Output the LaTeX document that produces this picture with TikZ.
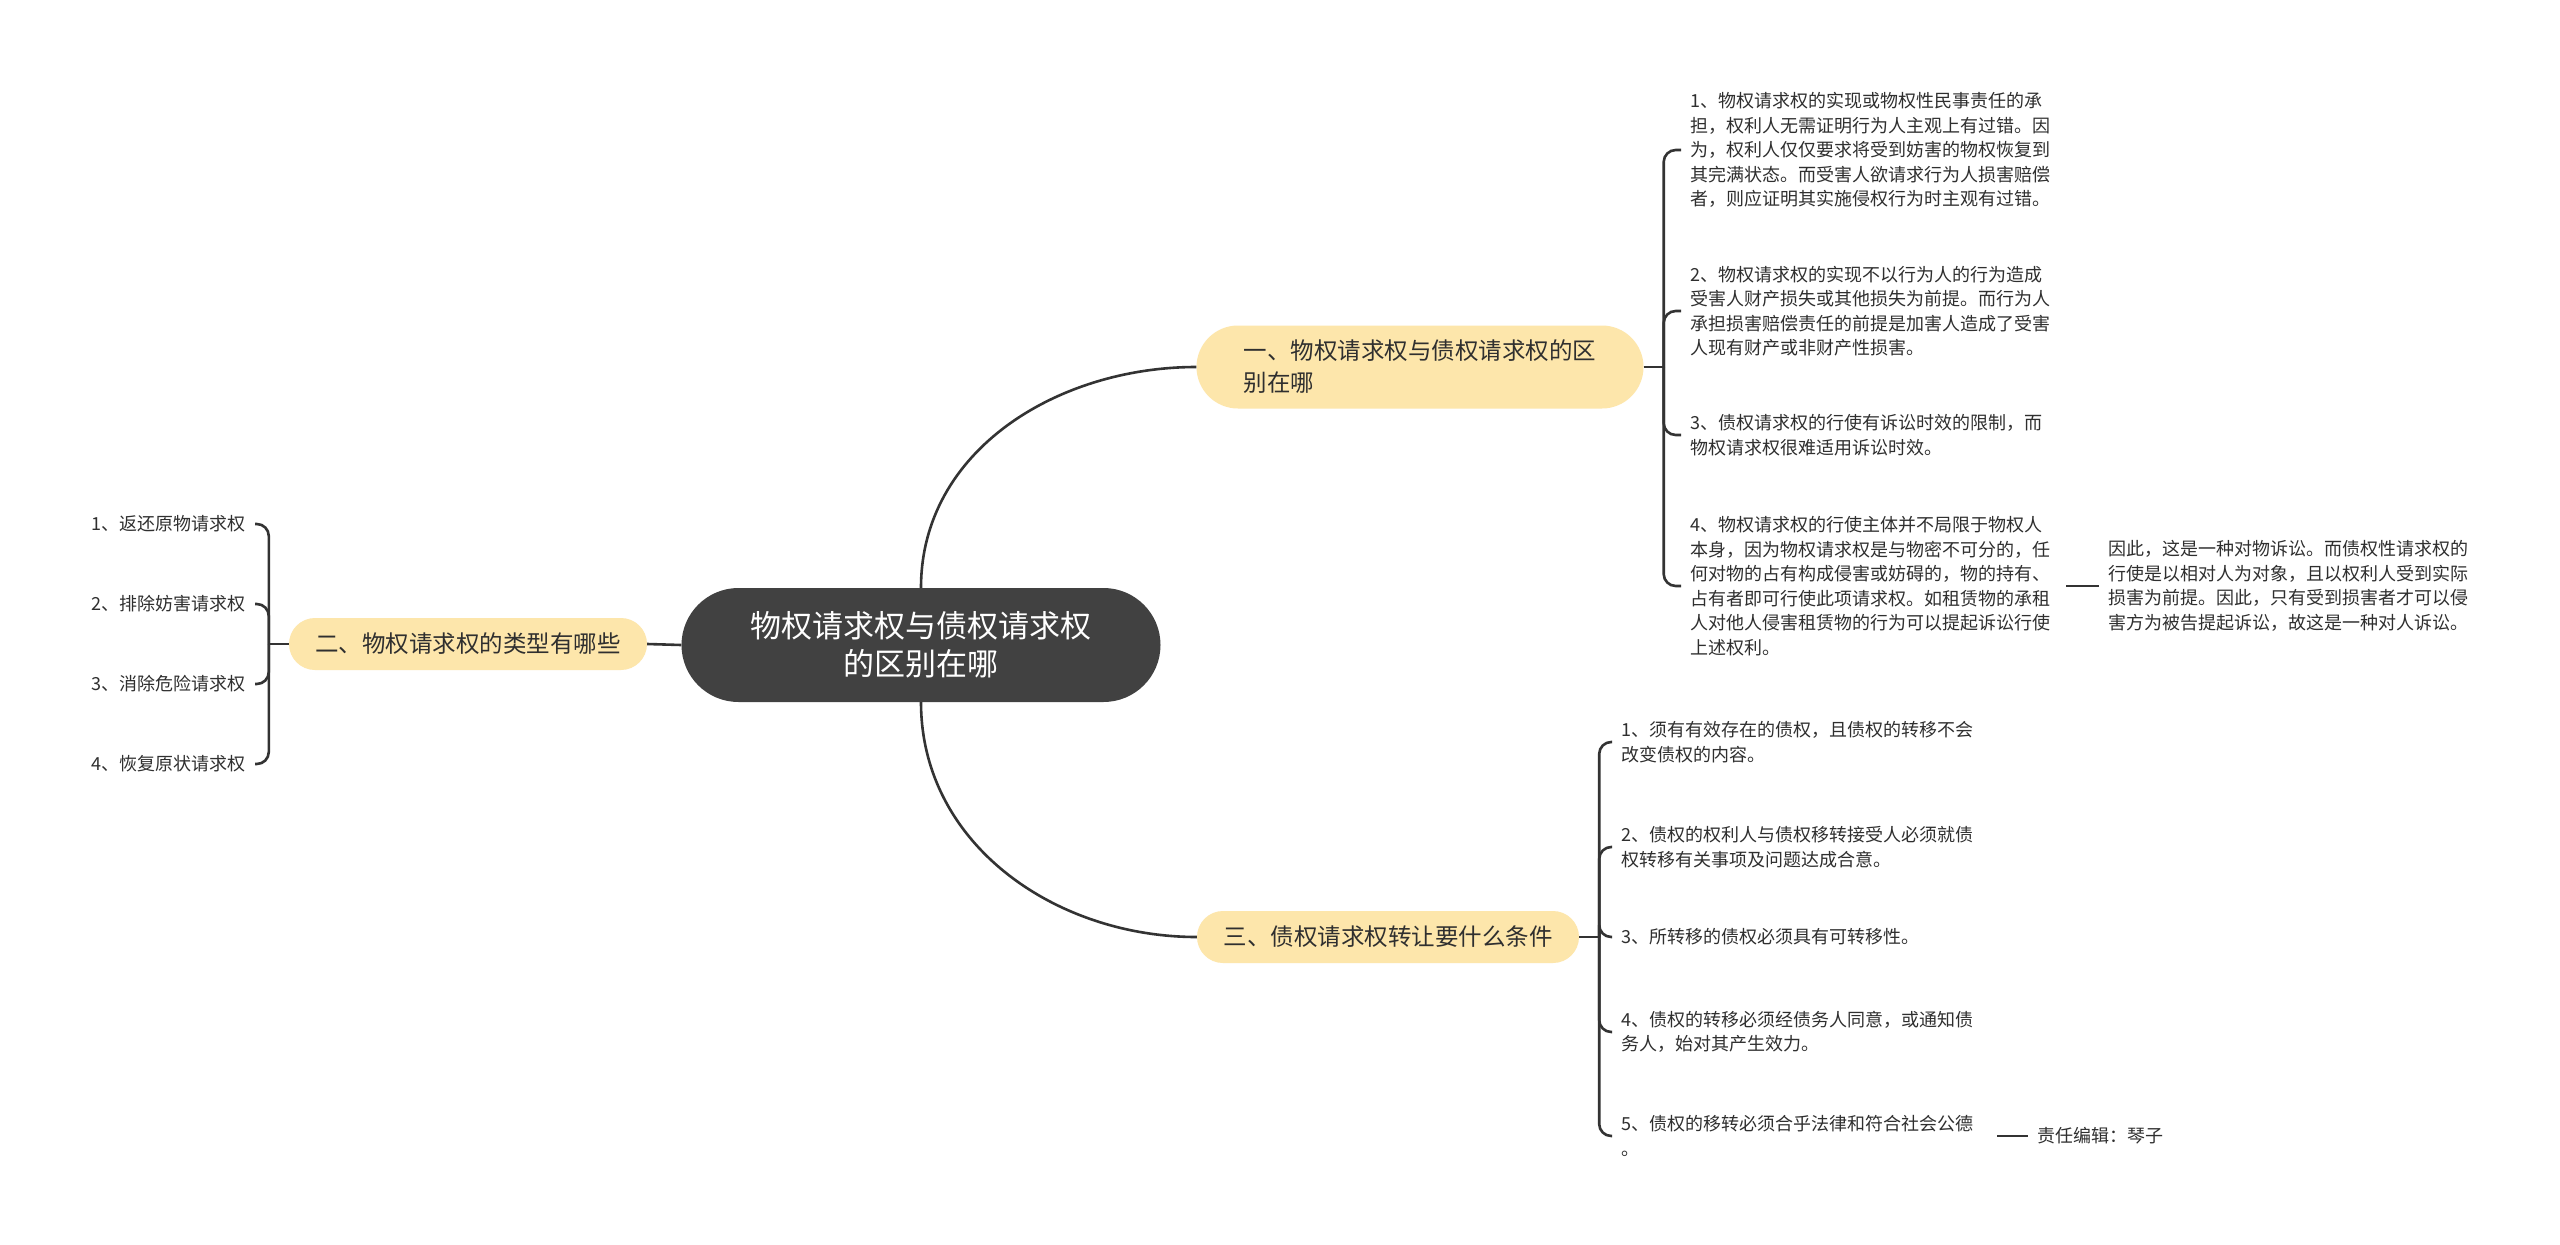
\documentclass[tikz,border=0pt]{standalone}
\usepackage{fontspec}
\setmainfont{Noto Sans CJK SC}
\usepackage{xcolor}
\definecolor{rootGray}{HTML}{414141}
\definecolor{topicYellow}{HTML}{FDE6AB}
\definecolor{linkGray}{HTML}{333333}
\definecolor{textGray}{HTML}{2F2F2F}
\usetikzlibrary{positioning}

\tikzset{
  rootnode/.style={fill=rootGray, text=white, rounded corners=57pt, minimum width=479pt, minimum height=114pt, align=center, font=\fontsize{31}{38}\selectfont},
  topicnode/.style={fill=topicYellow, text=textGray, minimum height=52pt, rounded corners=26pt, align=left, font=\fontsize{23.5}{32}\selectfont},
  leafnode/.style={text=textGray, inner xsep=9pt, inner ysep=2pt, align=left, font=\fontsize{18}{24.5}\selectfont},
  longleaf/.style={leafnode, text width=367pt, anchor=west},
  link/.style={draw=linkGray, line width=2.6pt},
  branch/.style={link, rounded corners=12pt},
}

\begin{document}
\begin{tikzpicture}[x=1pt, y=-1pt]
  \fill[white] (0,0) rectangle (2560,1245);
  \useasboundingbox (0,0) rectangle (2560,1245);

  % centre and main topics
  \node[rootnode] (root) at (921,645) {物权请求权与债权请求权\\的区别在哪};
  \node[topicnode, rounded corners=41.5pt, minimum width=447pt, minimum height=83pt] (diff) at (1420,367) {一、物权请求权与债权请求权的区\\别在哪};
  \node[topicnode, minimum width=358pt] (kinds) at (468,644) {二、物权请求权的类型有哪些};
  \node[topicnode, minimum width=382pt] (terms) at (1388,937) {三、债权请求权转让要什么条件};

  \draw[link] (root.west) -- (kinds.east);
  \draw[link] (root.north) to[out=90, in=180] (diff.west);
  \draw[link] (root.south) to[out=-90, in=180] (terms.west);

  % differences
  \node[longleaf] (diffA) at (1681,150) {1、物权请求权的实现或物权性民事责任的承\\担，权利人无需证明行为人主观上有过错。因\\为，权利人仅仅要求将受到妨害的物权恢复到\\其完满状态。而受害人欲请求行为人损害赔偿\\者，则应证明其实施侵权行为时主观有过错。};
  \node[longleaf] (diffB) at (1681,311) {2、物权请求权的实现不以行为人的行为造成\\受害人财产损失或其他损失为前提。而行为人\\承担损害赔偿责任的前提是加害人造成了受害\\人现有财产或非财产性损害。};
  \node[longleaf] (diffC) at (1681,435) {3、债权请求权的行使有诉讼时效的限制，而\\物权请求权很难适用诉讼时效。};
  \node[longleaf] (diffD) at (1681,586) {4、物权请求权的行使主体并不局限于物权人\\本身，因为物权请求权是与物密不可分的，任\\何对物的占有构成侵害或妨碍的，物的持有、\\占有者即可行使此项请求权。如租赁物的承租\\人对他人侵害租赁物的行为可以提起诉讼行使\\上述权利。};
  \node[longleaf, right=33pt of diffD] (diffDnote) {因此，这是一种对物诉讼。而债权性请求权的\\行使是以相对人为对象，且以权利人受到实际\\损害为前提。因此，只有受到损害者才可以侵\\害方为被告提起诉讼，故这是一种对人诉讼。};

  \coordinate (diffJ) at ([xshift=20pt]diff.east);
  \draw[link] (diff.east) -- (diffJ);
  \foreach \leaf in {diffA,diffB,diffC,diffD}
    \draw[branch] (diffJ) |- (\leaf.west);
  \draw[link] (diffD.east) -- (diffDnote.west);

  % kinds
  \node[leafnode, anchor=east] (kindA) at (255,524) {1、返还原物请求权};
  \node[leafnode, anchor=east] (kindB) at (255,604) {2、排除妨害请求权};
  \node[leafnode, anchor=east] (kindC) at (255,684) {3、消除危险请求权};
  \node[leafnode, anchor=east] (kindD) at (255,764) {4、恢复原状请求权};

  \coordinate (kindsJ) at ([xshift=-20pt]kinds.west);
  \draw[link] (kinds.west) -- (kindsJ);
  \foreach \leaf in {kindA,kindB,kindC,kindD}
    \draw[branch] (kindsJ) |- (\leaf.east);

  % transfer terms
  \node[longleaf] (termA) at (1612,742) {1、须有有效存在的债权，且债权的转移不会\\改变债权的内容。};
  \node[longleaf] (termB) at (1612,847) {2、债权的权利人与债权移转接受人必须就债\\权转移有关事项及问题达成合意。};
  \node[longleaf] (termC) at (1612,937) {3、所转移的债权必须具有可转移性。};
  \node[longleaf] (termD) at (1612,1032) {4、债权的转移必须经债务人同意，或通知债\\务人，始对其产生效力。};
  \node[longleaf] (termE) at (1612,1136) {5、债权的移转必须合乎法律和符合社会公德\\。};
  \node[leafnode, right=31pt of termE] (editor) {责任编辑：琴子};

  \coordinate (termsJ) at ([xshift=20pt]terms.east);
  \draw[link] (terms.east) -- (termsJ);
  \foreach \leaf in {termA,termB,termC,termD,termE}
    \draw[branch] (termsJ) |- (\leaf.west);
  \draw[link] (termE.east) -- (editor.west);
\end{tikzpicture}
\end{document}
